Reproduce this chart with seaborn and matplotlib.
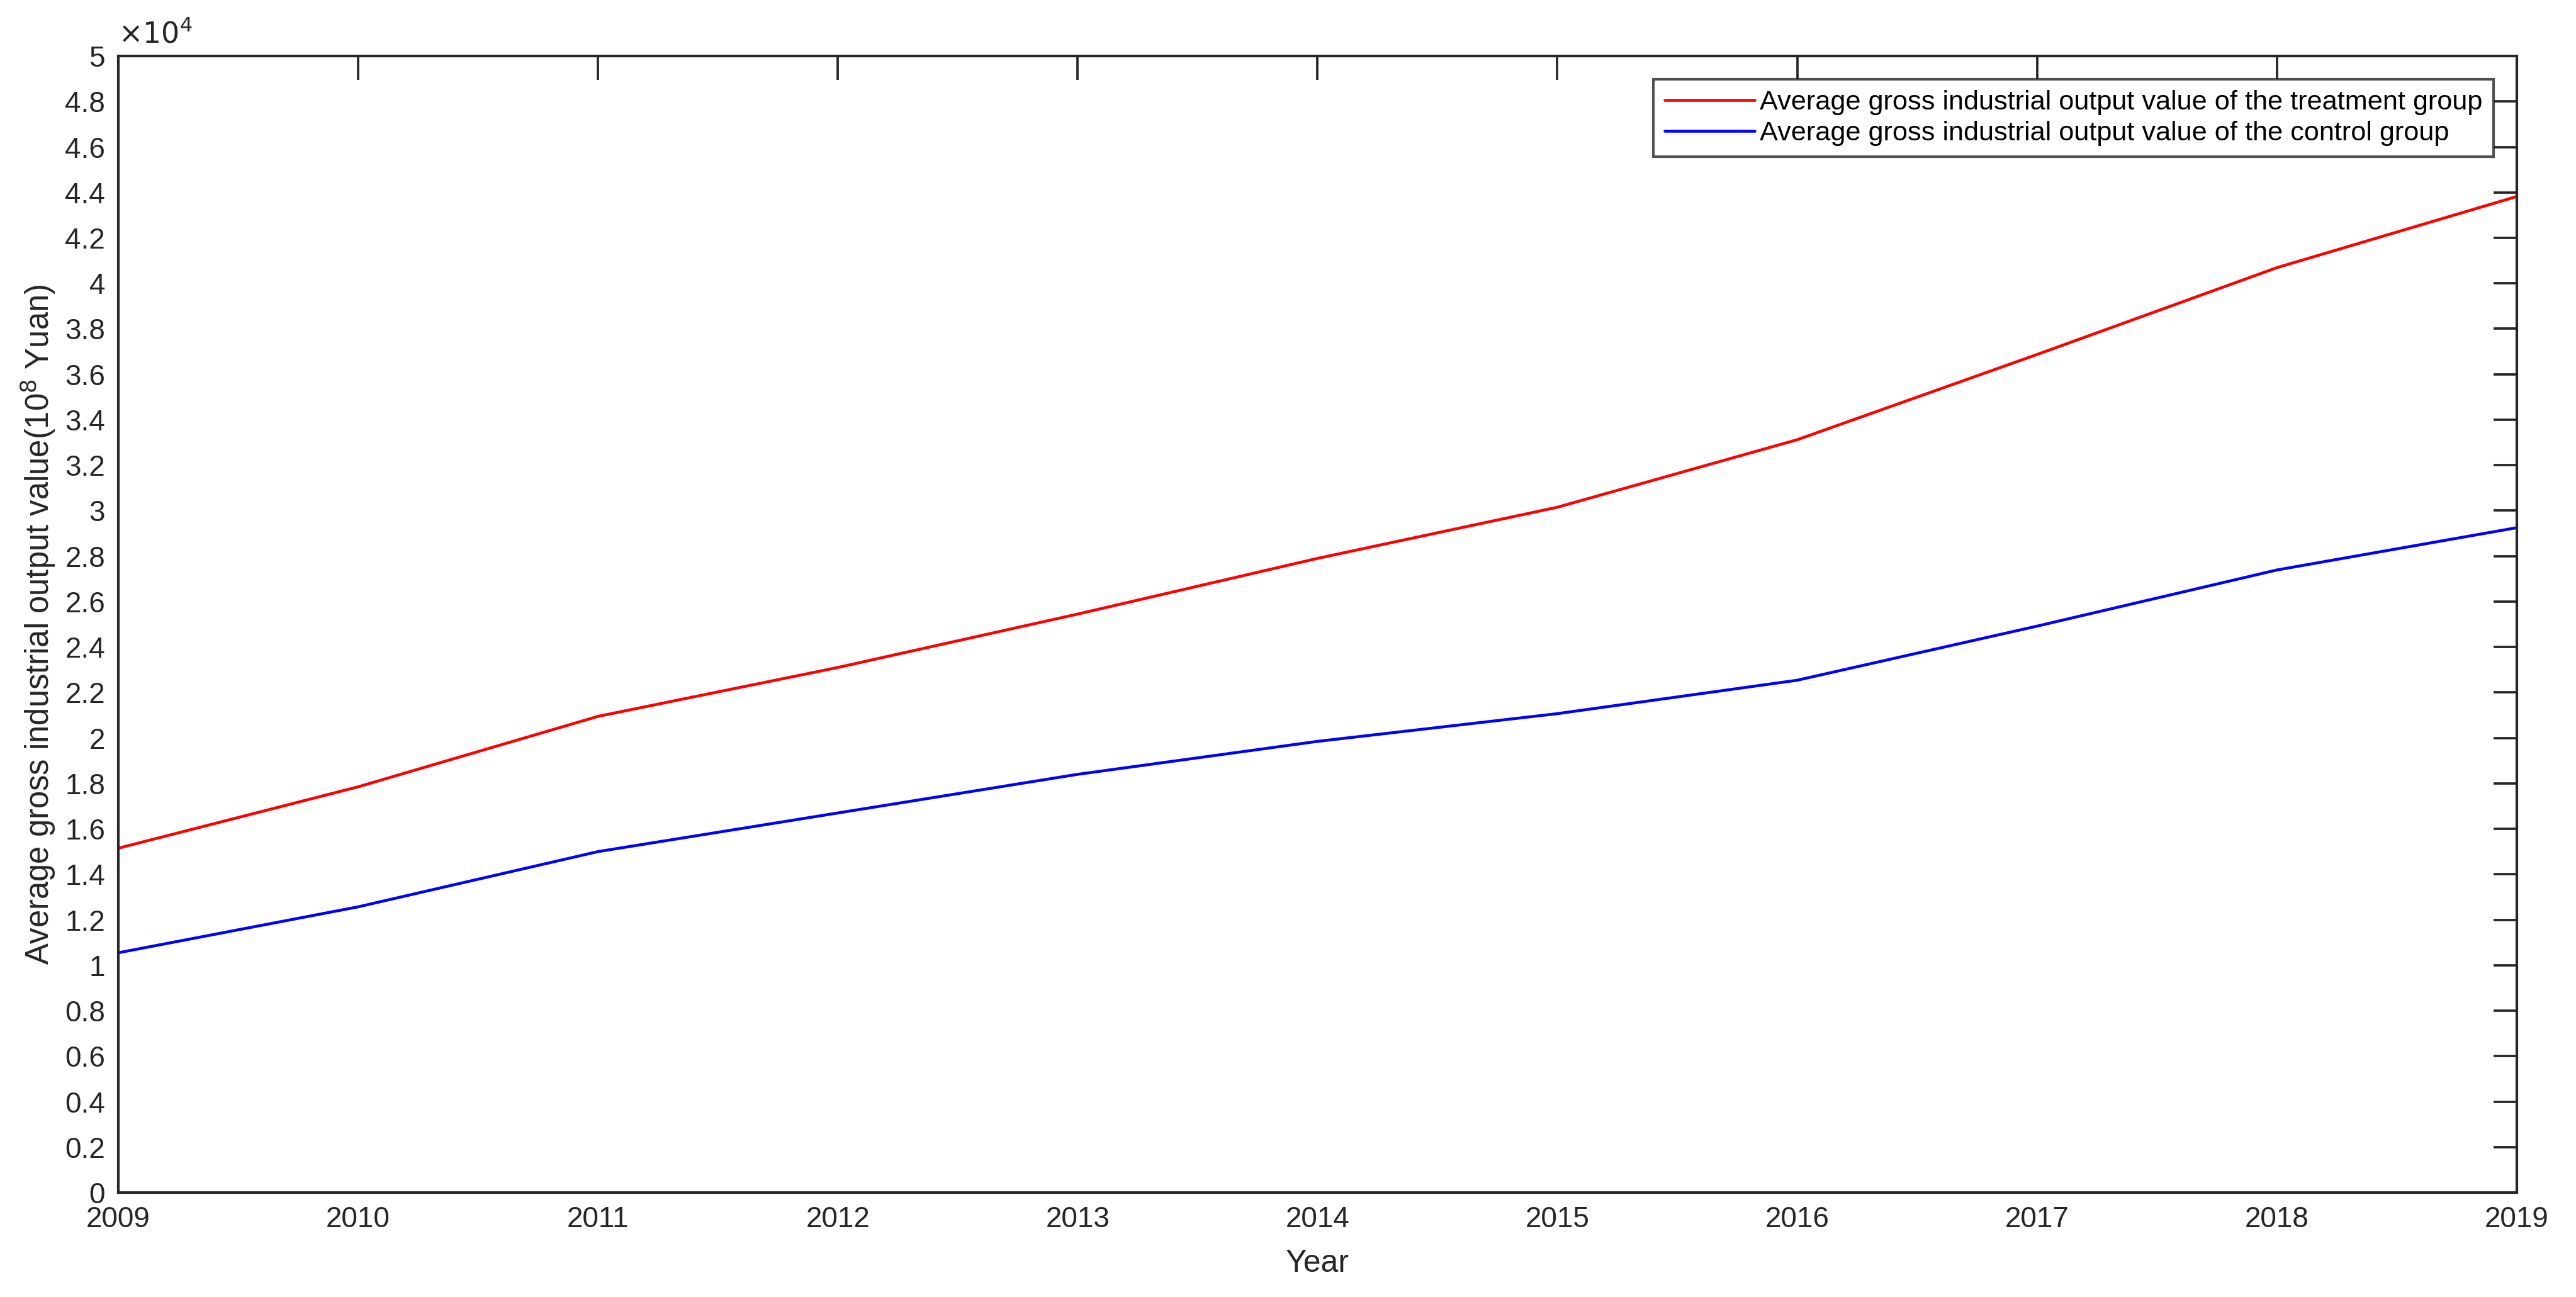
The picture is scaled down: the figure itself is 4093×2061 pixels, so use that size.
import pandas as pd
import seaborn as sns
import matplotlib
matplotlib.use('Agg')
import matplotlib.pyplot as plt
from matplotlib.ticker import MultipleLocator, FuncFormatter

# values
years = [2009, 2010, 2011, 2012, 2013, 2014, 2015, 2016, 2017, 2018, 2019]
treatment = [15150, 17850, 20950, 23100, 25450, 27900, 30150, 33120, 36870, 40690, 43820]
control = [10550, 12570, 15000, 16700, 18400, 19850, 21070, 22540, 24920, 27390, 29250]

lab_t = 'Average gross industrial output value of the treatment group'
lab_c = 'Average gross industrial output value of the control group'

df = pd.DataFrame({
    'Year': years * 2,
    'Value': treatment + control,
    'Group': [lab_t] * len(years) + [lab_c] * len(years),
})

sns.set_style('white')
plt.rcParams['font.family'] = ['Liberation Sans', 'DejaVu Sans']
dark = '#262626'

fig = plt.figure(figsize=(4093 / 300, 2061 / 300), dpi=300)
ax = fig.add_axes([0.0459, 0.0805, 0.977 - 0.0459, 0.9568 - 0.0805])

sns.lineplot(data=df, x='Year', y='Value', hue='Group',
             palette={lab_t: '#ff0000', lab_c: '#0000ff'},
             linewidth=1.1, ax=ax)

ax.set_xlim(2009, 2019)
ax.set_ylim(0, 50000)
ax.xaxis.set_major_locator(MultipleLocator(1))
ax.yaxis.set_major_locator(MultipleLocator(2000))
ax.yaxis.set_major_formatter(FuncFormatter(lambda v, p: f'{v / 1e4:g}'))

ax.tick_params(direction='in', top=True, right=True, length=9, width=0.9,
               color=dark, labelcolor=dark, labelsize=11, pad=5)
for s in ax.spines.values():
    s.set_color(dark)
    s.set_linewidth(1.0)

ax.text(0.0, 1.006, r'$\times 10^{4}$', transform=ax.transAxes,
        fontsize=11, color=dark, ha='left', va='bottom')

ax.set_xlabel('Year', fontsize=12, color=dark, labelpad=6)
ax.set_ylabel(r'Average gross industrial output value(10$^{8}$ Yuan)',
              fontsize=12.2, color=dark, labelpad=3)

leg = ax.legend(loc='upper right', fontsize=10.4, frameon=True, fancybox=False,
                edgecolor=dark, borderaxespad=0.85, labelspacing=0.2,
                handlelength=3.3, handletextpad=0.2, borderpad=0.4)
leg.get_frame().set_linewidth(1.0)
for t in leg.get_texts():
    t.set_color('black')

fig.savefig('out.png', dpi=300, facecolor='white')
